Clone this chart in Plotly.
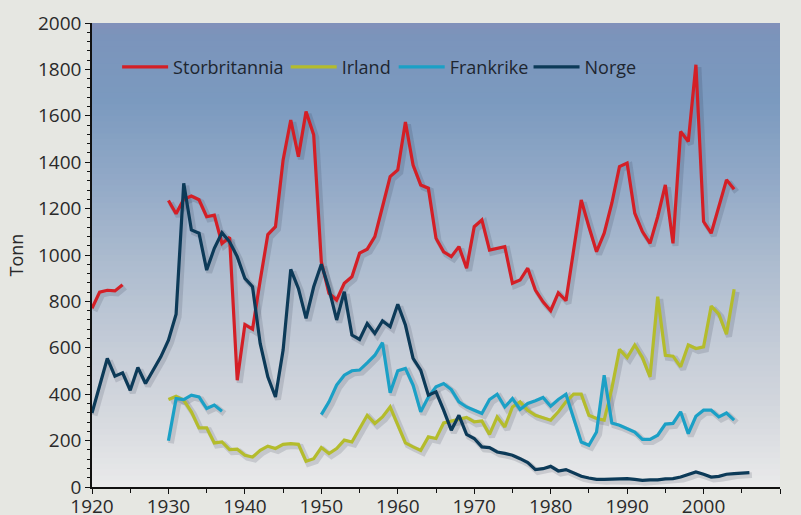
import plotly.graph_objects as go

years = list(range(1920, 2007))

storbritannia = [
    770, 840, 848, 845, 872, None, None, None, None, None,
    1235, 1178, 1240, 1254, 1238, 1165, 1172, 1050, 1076, 460,
    700, 680, 890, 1088, 1122, 1410, 1582, 1424, 1618, 1518,
    970, 835, 806, 878, 906, 1008, 1025, 1079, 1208, 1338,
    1367, 1573, 1388, 1302, 1288, 1072, 1014, 993, 1036, 943,
    1122, 1151, 1021, 1029, 1036, 878, 892, 943, 849, 798,
    760, 837, 803, 1020, 1237, 1122, 1014, 1094, 1223, 1381,
    1396, 1180, 1101, 1050, 1165, 1302, 1050, 1532, 1489, 1820,
    1144, 1094, 1208, 1324, 1283, None, None,
]

irland = [
    None, None, None, None, None, None, None, None, None, None,
    377, 391, 374, 324, 255, 255, 190, 194, 161, 163,
    137, 129, 158, 176, 166, 184, 187, 184, 111, 122,
    170, 144, 166, 202, 194, 252, 309, 274, 302, 345,
    266, 190, 173, 158, 216, 209, 276, 285, 291, 300,
    281, 285, 227, 302, 259, 345, 367, 331, 309, 298,
    288, 324, 367, 400, 400, 309, 295, 288, 425, 593,
    558, 612, 558, 475, 820, 568, 564, 518, 612, 597,
    604, 780, 745, 659, 852, None, None,
]

frankrike = [
    None, None, None, None, None, None, None, None, None, None,
    199, 381, 377, 396, 388, 338, 353, 327, None, None,
    None, None, None, None, None, None, None, None, None, None,
    312, 367, 439, 482, 501, 504, 535, 568, 622, 406,
    501, 511, 439, 324, 388, 432, 446, 420, 367, 345,
    331, 317, 377, 400, 345, 381, 334, 360, 372, 386,
    348, 377, 400, 295, 194, 180, 237, 482, 276, 266,
    252, 237, 205, 205, 223, 271, 274, 324, 230, 305,
    331, 331, 302, 319, 288, None, None,
]

norge = [
    319, 432, 554, 478, 492, 417, 515, 446, 501, 561,
    633, 745, 1309, 1108, 1094, 935, 1029, 1096, 1057, 993,
    899, 863, 619, 475, 388, 590, 938, 856, 727, 863,
    960, 855, 720, 842, 655, 636, 705, 662, 716, 691,
    788, 698, 554, 504, 396, 410, 331, 245, 309, 227,
    209, 173, 170, 151, 145, 137, 122, 105, 75, 79,
    89, 69, 75, 60, 46, 39, 33, 33, 35, 35,
    36, 33, 29, 31, 31, 35, 36, 43, 53, 65,
    55, 43, 46, 55, 58, 60, 62,
]

series_names = ["Storbritannia", "Irland", "Frankrike", "Norge"]
series_values = [storbritannia, irland, frankrike, norge]
series_colors = ["#d41f26", "#b4bc2c", "#1ba0c6", "#0c3a58"]
legend_ids = ["legend", "legend2", "legend3", "legend4"]
legend_x = [0.0365, 0.2815, 0.4385, 0.6345]

FONT = "Open Sans"
X_RANGE = [1920, 2010]
Y_RANGE = [0, 2000]
BG = "#e6e7e2"

fig = go.Figure()

# soft drop shadows (same data, drawn on a slightly offset hidden axis pair)
for vals in series_values:
    fig.add_trace(go.Scatter(
        x=years, y=vals, mode="lines", showlegend=False, hoverinfo="skip",
        line=dict(color="rgba(25,35,55,0.14)", width=6), connectgaps=False,
        xaxis="x", yaxis="y",
    ))

for name, vals, col, lg in zip(series_names, series_values, series_colors, legend_ids):
    fig.add_trace(go.Scatter(
        x=years, y=vals, name=name, mode="lines",
        line=dict(color=col, width=3.2), connectgaps=False,
        xaxis="x2", yaxis="y2", legend=lg,
    ))

# vertical gradient background of the plot area
stops = [
    (1.000, (0x83, 0x90, 0xb9)),
    (0.975, (0x7b, 0x94, 0xbb)),
    (0.830, (0x7b, 0x9a, 0xbf)),
    (0.660, (0x92, 0xa9, 0xc7)),
    (0.480, (0xad, 0xbc, 0xcf)),
    (0.290, (0xc6, 0xcd, 0xd8)),
    (0.140, (0xd7, 0xda, 0xdf)),
    (0.000, (0xea, 0xea, 0xea)),
]

def col_at(t):
    for (t1, c1), (t0, c0) in zip(stops[:-1], stops[1:]):
        if t0 <= t <= t1:
            f = (t - t0) / (t1 - t0) if t1 > t0 else 0
            return "rgb(%d,%d,%d)" % tuple(round(a + (b - a) * f) for a, b in zip(c0, c1))
    return "rgb(234,234,234)"

n = 80
shapes = []
for i in range(n):
    y0 = i / n
    y1 = (i + 1) / n
    shapes.append(dict(type="rect", xref="paper", yref="paper", x0=0, x1=1,
                       y0=y0, y1=min(1, y1 + 0.002), fillcolor=col_at((y0 + y1) / 2),
                       line=dict(width=0), layer="below"))

legend_common = dict(
    orientation="h", xanchor="left", y=0.905, yanchor="middle",
    bgcolor="rgba(0,0,0,0)", font=dict(family=FONT, size=18, color="#1e2630"),
    itemwidth=46, borderwidth=0,
)

# shift of the shadow axes: ~2.5 px right and ~2.5 px down
dx = (X_RANGE[1] - X_RANGE[0]) / 688 * 2.5
dy = (Y_RANGE[1] - Y_RANGE[0]) / 464 * 2.5

fig.update_layout(
    width=801, height=515,
    margin=dict(l=92, r=21, t=23, b=28),
    paper_bgcolor=BG,
    plot_bgcolor="rgba(0,0,0,0)",
    shapes=shapes,
    font=dict(family=FONT, color="#2a2a2a", size=19),
    showlegend=True,
    legend=dict(legend_common, x=legend_x[0]),
    legend2=dict(legend_common, x=legend_x[1]),
    legend3=dict(legend_common, x=legend_x[2]),
    legend4=dict(legend_common, x=legend_x[3]),
    xaxis=dict(range=[X_RANGE[0] - dx, X_RANGE[1] - dx], visible=False, automargin=False,
               fixedrange=True),
    yaxis=dict(range=[Y_RANGE[0] + dy, Y_RANGE[1] + dy], visible=False, automargin=False,
               fixedrange=True),
    xaxis2=dict(
        overlaying="x", side="bottom", anchor="y2",
        range=X_RANGE, dtick=10, tick0=1920, showgrid=False, zeroline=False,
        ticks="outside", ticklen=5, tickcolor="#111", tickwidth=1.2,
        showline=True, linecolor="#111", linewidth=1.5, automargin=False,
        ticklabelstandoff=-4,
        minor=dict(dtick=5, ticks="outside", ticklen=4, tickcolor="#111", showgrid=False),
        tickfont=dict(size=19, family=FONT, color="#2a2a2a"),
    ),
    yaxis2=dict(
        overlaying="y", side="left", anchor="x2",
        range=Y_RANGE, dtick=200, showgrid=False, zeroline=False,
        ticks="outside", ticklen=5, tickcolor="#111", tickwidth=1.2,
        showline=True, linecolor="#111", linewidth=1.5, automargin=False,
        minor=dict(dtick=40, ticks="outside", ticklen=3, tickcolor="#111", showgrid=False),
        tickfont=dict(size=19, family=FONT, color="#2a2a2a"),
        title=dict(text="Tonn", font=dict(size=18, family=FONT, color="#2a2a2a"), standoff=10),
    ),
)

fig.write_html(
    "out.html",
    config={"displayModeBar": False},
    post_script="document.body.style.margin='0';document.body.style.background='%s';" % BG,
)
